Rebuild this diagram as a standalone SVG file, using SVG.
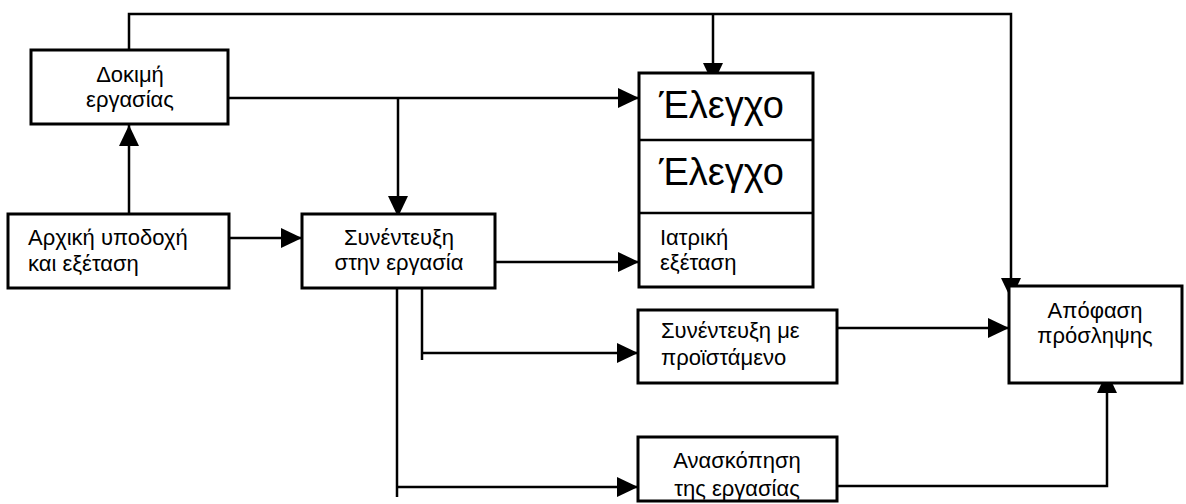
<svg xmlns="http://www.w3.org/2000/svg" width="1186" height="504" viewBox="0 0 1186 504">
<defs>
<marker id="ah" markerUnits="userSpaceOnUse" markerWidth="24" markerHeight="22" refX="21" refY="10" orient="auto">
<path d="M0,0 L21,10 L0,20 z" fill="#000"/>
</marker>
<style>
.box{fill:#fff;stroke:#000;stroke-width:3}
.ln{fill:none;stroke:#000;stroke-width:2.5}
text{font-family:"Liberation Sans",Arial,sans-serif;font-size:22px;fill:#000}
.c{text-anchor:middle}
.big{font-size:38px}
</style>
</defs>
<rect width="1186" height="504" fill="#fff"/>
<g id="connectors">
<path class="ln" d="M129,50 V14 H1011 V299" marker-end="url(#ah)"/>
<path class="ln" d="M713,14 V84" marker-end="url(#ah)"/>
<path class="ln" d="M228,98 H639" marker-end="url(#ah)"/>
<path class="ln" d="M398,98 V217" marker-end="url(#ah)"/>
<path class="ln" d="M129,214 V125" marker-end="url(#ah)"/>
<path class="ln" d="M229,238 H302" marker-end="url(#ah)"/>
<path class="ln" d="M495,262 H639" marker-end="url(#ah)"/>
<path class="ln" d="M422,288 V360"/>
<path class="ln" d="M422,353 H638" marker-end="url(#ah)"/>
<path class="ln" d="M397,288 V497"/>
<path class="ln" d="M397,487 H638" marker-end="url(#ah)"/>
<path class="ln" d="M837,328 H1009" marker-end="url(#ah)"/>
<path class="ln" d="M837,486 H1107 V372" marker-end="url(#ah)"/>
</g>
<g id="dokimi">
<rect class="box" x="31" y="50" width="197" height="74"/>
<text class="c" x="130" y="82">Δοκιμή</text>
<text class="c" x="130" y="107">εργασίας</text>
</g>
<g id="elegxo">
<rect class="box" x="639" y="73" width="174" height="214"/>
<path class="ln" d="M639,140 H813 M639,213 H813" stroke-width="3"/>
<text class="big" x="659" y="118">Έλεγχο</text>
<text class="big" x="659" y="185">Έλεγχο</text>
<text x="660" y="245">Ιατρική</text>
<text x="660" y="270">εξέταση</text>
</g>
<g id="arxiki">
<rect class="box" x="8" y="214" width="221" height="74"/>
<text x="28" y="245">Αρχική υποδοχή</text>
<text x="28" y="271">και εξέταση</text>
</g>
<g id="synenteyxi">
<rect class="box" x="302" y="214" width="193" height="74"/>
<text class="c" x="399" y="245">Συνέντευξη</text>
<text class="c" x="399" y="270">στην εργασία</text>
</g>
<g id="proistameno">
<rect class="box" x="638" y="310" width="199" height="73"/>
<text x="661" y="338">Συνέντευξη με</text>
<text x="661" y="365">προϊστάμενο</text>
</g>
<g id="anaskopisi">
<rect class="box" x="638" y="437" width="199" height="64"/>
<text class="c" x="737" y="468">Ανασκόπηση</text>
<text class="c" x="737" y="496">της εργασίας</text>
</g>
<g id="apofasi">
<rect class="box" x="1009" y="286" width="173" height="97"/>
<text class="c" x="1095" y="318">Απόφαση</text>
<text class="c" x="1095" y="343">πρόσληψης</text>
</g>
</svg>
